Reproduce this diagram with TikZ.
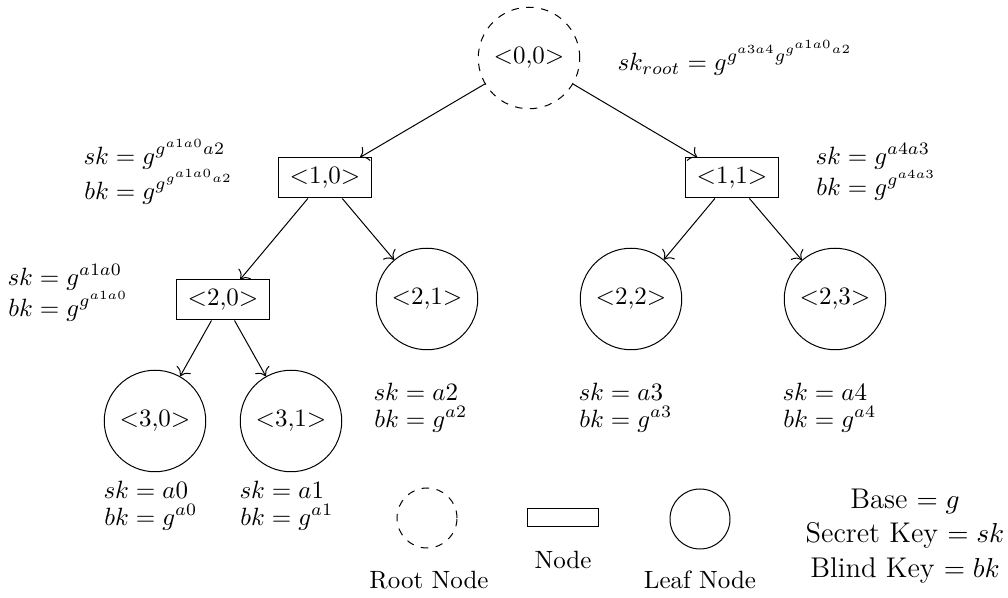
\documentclass[tikz,border=0pt]{standalone}
\usepackage{amsmath}
\usetikzlibrary{arrows.meta}
\begin{document}
\begin{tikzpicture}[x=0.4pt,y=-0.4pt,
  leaf/.style={draw,circle,minimum size=40.6pt,inner sep=1pt},
  rootnode/.style={draw,circle,dashed,minimum size=40.6pt,inner sep=1pt},
  inner/.style={draw,rectangle,minimum width=37pt,minimum height=16pt},
  keys/.style={anchor=west,inner sep=0pt},
  edge/.style={-{To[scale=1.25]}}]
\useasboundingbox (0,0) rectangle (1008,598);

% tree nodes
\node[rootnode] (r)   at (529,58)  {$<$0,0$>$};
\node[inner]    (n10) at (325,178) {$<$1,0$>$};
\node[inner]    (n11) at (732,178) {$<$1,1$>$};
\node[inner]    (n20) at (223,300) {$<$2,0$>$};
\node[leaf]     (n21) at (427,299) {$<$2,1$>$};
\node[leaf]     (n22) at (631,299) {$<$2,2$>$};
\node[leaf]     (n23) at (835,299) {$<$2,3$>$};
\node[leaf]     (n30) at (155,421) {$<$3,0$>$};
\node[leaf]     (n31) at (291,421) {$<$3,1$>$};

% connectors
\draw[edge] (r) -- (n10);
\draw[edge] (r) -- (n11);
\draw[edge] (n10) -- (n20);
\draw[edge] (n10) -- (n21);
\draw[edge] (n11) -- (n22);
\draw[edge] (n11) -- (n23);
\draw[edge] (n20) -- (n30);
\draw[edge] (n20) -- (n31);

% key labels
\node[keys] (kr)  at (617,58)  {$sk_{root} = g^{g^{a3a4}g^{g^{a1a0}a2}}$};
\node[keys] (k10) at (83,174)  {$\begin{aligned} sk &= g^{g^{a1a0}a2}\\[-6pt] bk &= g^{g^{g^{a1a0}a2}}\end{aligned}$};
\node[keys] (k11) at (815,174) {$\begin{aligned} sk &= g^{a4a3}\\[-5.5pt] bk &= g^{g^{a4a3}}\end{aligned}$};
\node[keys] (k20) at (7,295)   {$\begin{aligned} sk &= g^{a1a0}\\[-5.5pt] bk &= g^{g^{a1a0}}\end{aligned}$};
\node[keys] (k21) at (373,408) {$\begin{aligned} sk &= a2\\[-5.3pt] bk &= g^{a2}\end{aligned}$};
\node[keys] (k22) at (578,408) {$\begin{aligned} sk &= a3\\[-5.3pt] bk &= g^{a3}\end{aligned}$};
\node[keys] (k23) at (782,408) {$\begin{aligned} sk &= a4\\[-5.3pt] bk &= g^{a4}\end{aligned}$};
\node[keys] (k30) at (103,506) {$\begin{aligned} sk &= a0\\[-5.3pt] bk &= g^{a0}\end{aligned}$};
\node[keys] (k31) at (239,506) {$\begin{aligned} sk &= a1\\[-5.3pt] bk &= g^{a1}\end{aligned}$};

% legend
\node[draw,circle,dashed,minimum size=24pt,inner sep=0pt] (lr) at (427,518) {};
\node (lrt) at (429,580) {Root Node};
\node[draw,rectangle,minimum width=28.4pt,minimum height=7.2pt,inner sep=0pt] (ln) at (563,518) {};
\node (lnt) at (563,560) {Node};
\node[draw,circle,minimum size=24pt,inner sep=0pt] (ll) at (700,519) {};
\node (llt) at (700,580) {Leaf Node};
\node[align=center,font=\fontsize{11.4}{13.8}\selectfont] (lk) at (905,536) {Base $= g$\\ Secret Key $= sk$\\ Blind Key $= bk$};
\end{tikzpicture}
\end{document}
